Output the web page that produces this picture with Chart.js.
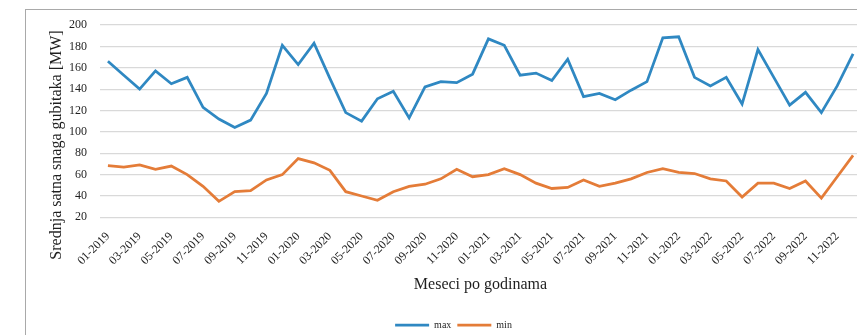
<!DOCTYPE html>
<html>
<head>
<meta charset="utf-8">
<script src="https://cdn.jsdelivr.net/npm/chart.js@4.4.0/dist/chart.umd.min.js"></script>
<style>
  html, body { margin: 0; padding: 0; background: #fff; overflow: hidden; width: 857px; height: 335px; }
  #frame { position: absolute; left: 25px; top: 9px; width: 882px; height: 340px; border: 1px solid #a9a9a9; }
  #wrap { position: absolute; left: 0; top: 0; width: 882px; height: 330px; }
</style>
</head>
<body>
<div id="frame"><div id="wrap"><canvas id="c"></canvas></div></div>
<script>
// Monthly categories 01-2019 .. 12-2022
const years = [2019, 2020, 2021, 2022];
const months = ['01','02','03','04','05','06','07','08','09','10','11','12'];
const categories = [];
years.forEach(y => months.forEach(m => categories.push(m + '-' + y)));

// Average hourly loss power [MW]
const maxValues = [
  166, 153, 140, 157, 145, 151, 123, 112, 104, 111, 136, 181,
  163, 183, 150, 118, 110, 131, 138, 113, 142, 147, 146, 154,
  187, 181, 153, 155, 148, 168, 133, 136, 130, 139, 147, 188,
  189, 151, 143, 151, 126, 177, 151, 125, 137, 118, 143, 173
];
const minValues = [
  68.5, 67, 69, 65, 68, 60, 49, 35, 44, 45, 55, 60,
  75, 71, 64, 44, 40, 36, 44, 49, 51, 56, 65, 58,
  60, 65.5, 60, 52, 47, 48, 55, 49, 52, 56, 62, 65.5,
  62, 61, 56, 54, 39, 52, 52, 47, 54, 38, 58, 78
];
const seriesNames = ['max', 'min'];
const yTicks = { min: 20, max: 200, step: 20 };
const xTitle = 'Meseci po godinama';
const yTitle = 'Srednja satna snaga gubitaka [MW]';

const serif = 'Liberation Serif';
const textColor = '#1f1f1f';

// vertical axis title, placed by hand so it sits lower than the plot centre
const yTitlePlugin = {
  id: 'yTitle',
  afterDraw(chart) {
    const ctx = chart.ctx;
    ctx.save();
    ctx.translate(31, 135);
    ctx.rotate(-Math.PI / 2);
    ctx.font = '16px "' + serif + '"';
    ctx.fillStyle = textColor;
    ctx.textAlign = 'center';
    ctx.textBaseline = 'middle';
    ctx.fillText(yTitle, 0, 0);
    ctx.restore();
  }
};

new Chart(document.getElementById('c'), {
  type: 'line',
  data: {
    labels: categories,
    datasets: [
      { label: seriesNames[0], data: maxValues, borderColor: '#2f88c2', backgroundColor: '#2f88c2',
        borderWidth: 2.75, pointRadius: 0, tension: 0 },
      { label: seriesNames[1], data: minValues, borderColor: '#e47c38', backgroundColor: '#e47c38',
        borderWidth: 2.75, pointRadius: 0, tension: 0 }
    ]
  },
  options: {
    responsive: true,
    maintainAspectRatio: false,
    devicePixelRatio: 1,
    animation: false,
    layout: { padding: { top: 15, left: 20, right: 47, bottom: 0 } },
    plugins: {
      legend: {
        position: 'bottom',
        labels: {
          usePointStyle: true, pointStyle: 'line', pointStyleWidth: 34,
          font: { family: serif, size: 10 }, color: textColor, padding: 6
        }
      },
      tooltip: { enabled: false }
    },
    scales: {
      x: {
        offset: true,
        grid: { display: false },
        border: { display: false },
        ticks: {
          autoSkip: false, maxRotation: 45, minRotation: 45, padding: 4,
          font: { family: serif, size: 12 }, color: textColor,
          callback(v, i) { return i % 2 === 0 ? this.getLabelForValue(v) : ''; }
        },
        title: { display: true, text: xTitle, font: { family: serif, size: 16 }, color: textColor,
                 padding: { top: 3, bottom: 20 } }
      },
      y: {
        min: yTicks.min, max: yTicks.max,
        grid: { color: '#d9d9d9', lineWidth: 1.2, drawTicks: false },
        border: { display: false },
        ticks: { stepSize: yTicks.step, padding: 13, font: { family: serif, size: 12 }, color: textColor },
        afterFit(scale) {
          scale.width = 54;
          // the top label may sit in the layout padding; no extra room needed
          scale.paddingTop = 0;
          scale.paddingBottom = 0;
        }
      }
    }
  },
  plugins: [yTitlePlugin]
});
</script>
</body>
</html>
